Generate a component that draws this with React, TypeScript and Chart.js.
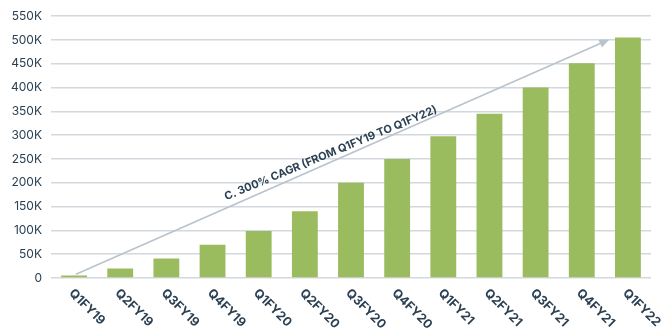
import React, { useEffect, useRef } from "react";
import { Chart, registerables } from "chart.js";

Chart.register(...registerables);

const categories = ["Q1FY19","Q2FY19","Q3FY19","Q4FY19","Q1FY20","Q2FY20","Q3FY20","Q4FY20","Q1FY21","Q2FY21","Q3FY21","Q4FY21","Q1FY22"];
const values = [5000, 20000, 41000, 70000, 99000, 140000, 200000, 250000, 298000, 345000, 400000, 451000, 505000];
const arrowStart = { index: 0.04, value: 8000 };
const arrowEnd = { index: 11.6, value: 501000 };
const annotationText = "C. 300% CAGR (FROM Q1FY19 TO Q1FY22)";
const annotationPos = { index: 5.56, value: 262000 };

const TEXT = "#2b4153";

const overlay = {
  id: "overlay",
  afterDatasetsDraw(chart: any) {
    const ctx = chart.ctx;
    const xs = chart.scales.x;
    const ys = chart.scales.y;
    // custom rotated x labels
    ctx.save();
    ctx.fillStyle = TEXT;
    ctx.font = "bold 12.5px Inter, 'DejaVu Sans', sans-serif";
    ctx.textAlign = "left";
    ctx.textBaseline = "middle";
    categories.forEach((c, i) => {
      const x = xs.getPixelForValue(i);
      ctx.save();
      ctx.translate(x - 3, ys.bottom + 13);
      ctx.rotate(Math.PI / 4);
      ctx.fillText(c, 0, 0);
      ctx.restore();
    });
    ctx.restore();
    // arrow
    const x1 = xs.getPixelForValue(arrowStart.index);
    const y1 = ys.getPixelForValue(arrowStart.value);
    const x2 = xs.getPixelForValue(arrowEnd.index);
    const y2 = ys.getPixelForValue(arrowEnd.value);
    const ang = Math.atan2(y2 - y1, x2 - x1);
    ctx.save();
    ctx.strokeStyle = "#b9c3cd";
    ctx.fillStyle = "#b9c3cd";
    ctx.lineWidth = 1.6;
    const hl = 11;
    ctx.beginPath();
    ctx.moveTo(x1, y1);
    ctx.lineTo(x2 - Math.cos(ang) * hl * 0.8, y2 - Math.sin(ang) * hl * 0.8);
    ctx.stroke();
    ctx.beginPath();
    ctx.moveTo(x2, y2);
    ctx.lineTo(x2 - hl * Math.cos(ang - 0.4), y2 - hl * Math.sin(ang - 0.4));
    ctx.lineTo(x2 - hl * Math.cos(ang + 0.4), y2 - hl * Math.sin(ang + 0.4));
    ctx.closePath();
    ctx.fill();
    ctx.restore();
    // annotation text
    const tx = xs.getPixelForValue(annotationPos.index);
    const ty = ys.getPixelForValue(annotationPos.value);
    ctx.save();
    ctx.translate(tx, ty);
    ctx.rotate(ang + 0.02);
    ctx.fillStyle = TEXT;
    ctx.font = "bold 11px Inter, 'DejaVu Sans', sans-serif";
    ctx.textAlign = "center";
    ctx.textBaseline = "middle";
    ctx.fillText(annotationText, 0, 0);
    ctx.restore();
  },
};

export default function App() {
  const ref = useRef<HTMLCanvasElement | null>(null);
  useEffect(() => {
    document.body.style.margin = "0";
    const chart = new Chart(ref.current as HTMLCanvasElement, {
      type: "bar",
      data: {
        labels: categories,
        datasets: [
          {
            data: values,
            backgroundColor: "#9bbb5f",
            barPercentage: 0.56,
            categoryPercentage: 1,
          },
        ],
      },
      options: {
        responsive: false,
        animation: false,
        maintainAspectRatio: false,
        layout: { padding: { top: 15, right: 10, bottom: 0, left: 0 } },
        plugins: { legend: { display: false }, tooltip: { enabled: false } },
        scales: {
          x: {
            grid: { display: false },
            border: { display: false },
            ticks: { display: false },
            afterFit: (s: any) => { s.height = 53; },
          },
          y: {
            min: 0,
            max: 550000,
            grid: { color: "#d3d8de", lineWidth: 1.5, drawTicks: false },
            border: { display: false },
            afterFit: (s: any) => { s.width = 51; },
            ticks: {
              stepSize: 50000,
              padding: 9,
              color: TEXT,
              font: { family: "Inter, 'DejaVu Sans', sans-serif", size: 12 },
              callback: (v: any) => (v === 0 ? "0" : v / 1000 + "K"),
            },
          },
        },
      },
      plugins: [overlay],
    });
    return () => chart.destroy();
  }, []);
  return <canvas ref={ref} width={661} height={331} style={{ display: "block" }} />;
}
